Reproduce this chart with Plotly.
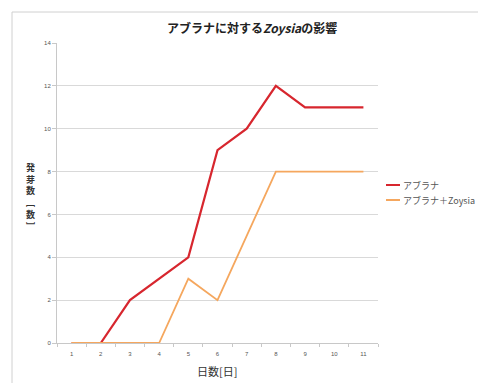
import plotly.graph_objects as go

# Days and germination counts
days = [1, 2, 3, 4, 5, 6, 7, 8, 9, 10, 11]
abura = [0, 0, 2, 3, 4, 9, 10, 12, 11, 11, 11]
abura_zoysia = [0, 0, 0, 0, 3, 2, 5, 8, 8, 8, 8]
y_ticks = [0, 2, 4, 6, 8, 10, 12, 14]

series_names = ["アブラナ", "アブラナ＋Zoysia"]
series_colors = ["#d7262e", "#f5a75e"]

W, H = 478, 383
L, R, T, B = 57, 378, 43, 343   # plot area in pixels

def px(x):
    return (x - L) / (R - L)

def py(y):
    return (B - y) / (B - T)

jp = "Noto Sans CJK JP"

fig = go.Figure()
fig.add_trace(go.Scatter(x=days, y=abura, mode="lines", name=series_names[0],
                         line=dict(color=series_colors[0], width=2.2)))
fig.add_trace(go.Scatter(x=days, y=abura_zoysia, mode="lines", name=series_names[1],
                         line=dict(color=series_colors[1], width=1.8)))

shapes = [
    # chart frame
    dict(type="rect", xref="paper", yref="paper",
         x0=px(12), x1=px(520), y0=py(420), y1=py(12),
         line=dict(color="#d0d0d0", width=1), fillcolor="rgba(0,0,0,0)", layer="below"),
]
annotations = [
    dict(text="<b>アブラナに対する<i>Zoysia</i>の影響</b>", xref="paper", yref="paper",
         x=px(252), y=py(27), xanchor="center", yanchor="middle", showarrow=False,
         font=dict(family=jp, size=12, color="#222")),
    dict(text="日数[日]", xref="paper", yref="paper", x=px(217), y=py(371),
         xanchor="center", yanchor="middle",
         showarrow=False, font=dict(family=jp, size=11, color="#333")),
    dict(text="<b>発<br>芽<br>数<br>﹇<br>数<br>﹈</b>", xref="paper", yref="paper",
         x=px(30), y=py(197), xanchor="center", yanchor="middle",
         showarrow=False, align="center",
         font=dict(family=jp, size=9, color="#333")),
]

# legend drawn by hand
for i, (name, col) in enumerate(zip(series_names, series_colors)):
    yy = 185 + i * 15
    shapes.append(dict(type="line", xref="paper", yref="paper",
                       x0=px(386), x1=px(400), y0=py(yy), y1=py(yy),
                       line=dict(color=col, width=2)))
    annotations.append(dict(text=name, xref="paper", yref="paper", x=px(401), y=py(yy),
                            xanchor="left", yanchor="middle", showarrow=False,
                            font=dict(family=jp, size=9, color="#555")))

fig.update_layout(
    width=W, height=H,
    margin=dict(l=L, r=W - R, t=T, b=H - B),
    paper_bgcolor="white", plot_bgcolor="white",
    showlegend=False,
    shapes=shapes, annotations=annotations,
    xaxis=dict(range=[0.5, 11.5], tickvals=days, ticktext=[str(d) for d in days],
               showgrid=False, zeroline=False, showline=True, linecolor="#c8c8c8",
               ticks="", ticklabelstandoff=5,
               tickfont=dict(family="Liberation Sans", size=6, color="#555"),
               minor=dict(tick0=0.5, dtick=1, ticks="outside", ticklen=3,
                          tickcolor="#c8c8c8", showgrid=False)),
    yaxis=dict(range=[0, 14], tickvals=y_ticks, showgrid=True, gridcolor="#d9d9d9",
               zeroline=False, showline=True, linecolor="#c8c8c8", ticks="outside",
               ticklen=4, tickcolor="#c8c8c8",
               tickfont=dict(family="Liberation Sans", size=6, color="#555")),
)

fig.write_html("out.html")
